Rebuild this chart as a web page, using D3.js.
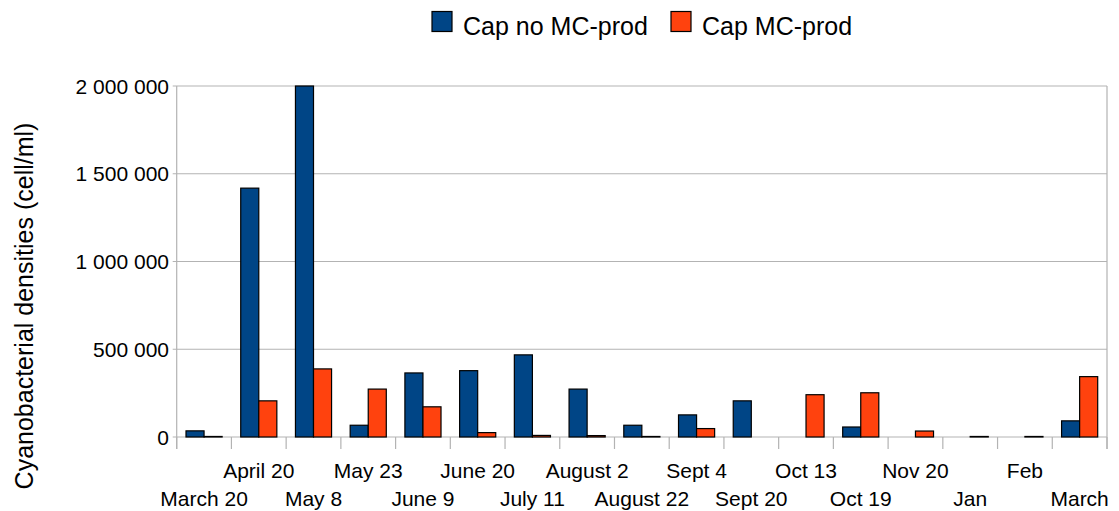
<!DOCTYPE html>
<html>
<head>
<meta charset="utf-8">
<script src="https://cdn.jsdelivr.net/npm/d3@7/dist/d3.min.js"></script>
<style>
  html, body { margin: 0; padding: 0; background: #fff; }
  svg { display: block; font-family: "Liberation Sans", Arial, sans-serif; }
</style>
</head>
<body>
<svg id="chart" width="1119" height="511"></svg>
<script>
const categories = ["March 20", "April 20", "May 8", "May 23", "June 9", "June 20", "July 11",
  "August 2", "August 22", "Sept 4", "Sept 20", "Oct 13", "Oct 19", "Nov 20", "Jan", "Feb", "March"];
const seriesNames = ["Cap no MC-prod", "Cap MC-prod"];
const capNoMC = [35000, 1418000, 2000000, 67000, 365000, 378000, 468000, 273000, 67000, 126000, 206000, 0, 57000, 0, 0, 0, 92000];
const capMC   = [3000, 206000, 388000, 273000, 172000, 25000, 9000, 8000, 3000, 48000, 0, 241000, 252000, 34000, 3000, 3000, 344000];
const yTicks = [0, 500000, 1000000, 1500000, 2000000];
const colors = ["#004586", "#ff420e"];
const yTitle = "Cyanobacterial densities (cell/ml)";

(function () {
const svg = d3.select("#chart");
const pLeft = 176.7, pRight = 1107, pTop = 86, pBottom = 437;

const x0 = d3.scaleBand().domain(categories).range([pLeft, pRight]).paddingInner(0.34).paddingOuter(0.17);
const x1 = d3.scaleBand().domain(seriesNames).range([0, x0.bandwidth()]);
const y = d3.scaleLinear().domain([0, 2000000]).range([pBottom, pTop]);
const step = x0.step();

const fmt = v => d3.format(",")(v).replace(/,/g, " ");

// gridlines
svg.append("g").selectAll("line").data(yTicks).join("line")
  .attr("x1", pLeft - 4).attr("x2", pRight)
  .attr("y1", d => y(d)).attr("y2", d => y(d))
  .attr("stroke", "#b3b3b3").attr("stroke-width", 1.2);

// plot frame (left, right)
svg.append("line").attr("x1", pLeft).attr("x2", pLeft).attr("y1", pTop).attr("y2", pBottom + 12)
  .attr("stroke", "#b3b3b3").attr("stroke-width", 1.2);
svg.append("line").attr("x1", pRight).attr("x2", pRight).attr("y1", pTop).attr("y2", pBottom + 12)
  .attr("stroke", "#b3b3b3").attr("stroke-width", 1.2);

// x ticks at category boundaries
const bounds = d3.range(categories.length + 1).map(i => pLeft + i * step);
svg.append("g").selectAll("line").data(bounds).join("line")
  .attr("x1", d => d).attr("x2", d => d)
  .attr("y1", pBottom).attr("y2", pBottom + 12)
  .attr("stroke", "#b3b3b3").attr("stroke-width", 1.2);

// y tick labels
svg.append("g").selectAll("text").data(yTicks).join("text")
  .attr("x", 169).attr("y", d => y(d) + 7.5)
  .attr("text-anchor", "end").attr("font-size", 21).attr("fill", "#000")
  .text(fmt);

// x labels
svg.append("g").selectAll("text").data(categories).join("text")
  .attr("x", d => x0(d) + x0.bandwidth() / 2)
  .attr("y", (d, i) => i % 2 === 0 ? 506 : 478)
  .attr("text-anchor", "middle").attr("font-size", 21).attr("fill", "#000")
  .text(d => d);

// bars
const rows = categories.map((c, i) => ({ c, vals: [capNoMC[i], capMC[i]] }));
const g = svg.append("g");
rows.forEach(r => {
  r.vals.forEach((v, j) => {
    if (v <= 0) return;
    g.append("rect")
      .attr("x", x0(r.c) + x1(seriesNames[j]))
      .attr("width", x1.bandwidth())
      .attr("y", y(v))
      .attr("height", pBottom - y(v))
      .attr("fill", colors[j])
      .attr("stroke", "#000").attr("stroke-width", 1.2);
  });
});

// y title
svg.append("text")
  .attr("transform", "translate(33,306) rotate(-90)")
  .attr("text-anchor", "middle").attr("font-size", 25).attr("fill", "#000")
  .text(yTitle);

// legend
const legX = [432, 671];
seriesNames.forEach((s, i) => {
  svg.append("rect").attr("x", legX[i]).attr("y", 11.5).attr("width", 20).attr("height", 20)
    .attr("fill", colors[i]).attr("stroke", "#000").attr("stroke-width", 1.2);
  svg.append("text").attr("x", legX[i] + 31).attr("y", 35)
    .attr("font-size", 25).attr("fill", "#000").text(s);
});
})();
</script>
</body>
</html>
